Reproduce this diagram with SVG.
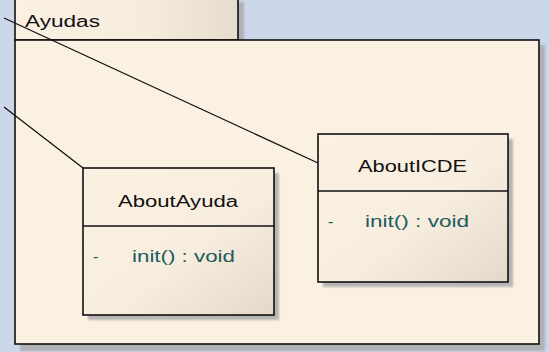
<svg xmlns="http://www.w3.org/2000/svg" width="550" height="352" viewBox="0 0 550 352">
<defs>
<linearGradient id="cls" x1="0" y1="0" x2="1" y2="1">
<stop offset="0" stop-color="#fbf1e3"/>
<stop offset="0.55" stop-color="#f8eee0"/>
<stop offset="1" stop-color="#e4d9c9"/>
</linearGradient>
<linearGradient id="tab" x1="0" y1="0" x2="1" y2="0">
<stop offset="0" stop-color="#fbf1e3"/>
<stop offset="0.6" stop-color="#f6ecde"/>
<stop offset="1" stop-color="#e6dccd"/>
</linearGradient>
<filter id="blur" x="-10%" y="-10%" width="120%" height="120%"><feGaussianBlur stdDeviation="0.8"/></filter>
</defs>
<style>
.shadow{fill:#ababab;filter:url(#blur);opacity:0.85}
.box{fill:url(#cls);stroke:#111;stroke-width:1.6}
.sep{stroke:#111;stroke-width:1.4}
.title{font-family:"Liberation Sans",Arial,sans-serif;font-size:16px;fill:#111}
.op{font-family:"Liberation Sans",Arial,sans-serif;font-size:16px;fill:#1c5c5c}
.conn{fill:none;stroke:#111;stroke-width:1.3}
</style>
<rect x="0" y="0" width="550" height="352" fill="#cdd7ea"/>
<g id="Ayudas">
<rect class="shadow" x="20" y="2" width="224" height="42"/>
<rect class="shadow" x="20" y="45" width="525" height="306"/>
<rect x="15" y="-2" width="223" height="42" fill="url(#tab)" stroke="#111" stroke-width="1.6"/>
<rect x="15" y="40" width="524" height="304" fill="#fbf1e3" stroke="#111" stroke-width="1.6"/>
<text class="title" x="25" y="27" font-size="17" textLength="75" lengthAdjust="spacingAndGlyphs">Ayudas</text>
</g>
<g id="connectors">
<line class="conn" x1="4" y1="18" x2="318" y2="163"/>
<line class="conn" x1="4" y1="107" x2="83" y2="168"/>
</g>
<g id="AboutAyuda">
<rect class="shadow" x="88" y="173" width="191" height="147"/>
<rect class="box" x="83" y="168" width="191" height="147"/>
<line class="sep" x1="83" y1="226" x2="274" y2="226"/>
<text class="title" x="118" y="207" textLength="120" lengthAdjust="spacingAndGlyphs">AboutAyuda</text>
<text class="op" x="93" y="262">-</text>
<text class="op" x="132" y="262" textLength="103" lengthAdjust="spacingAndGlyphs">init() : void</text>
</g>
<g id="AboutICDE">
<rect class="shadow" x="323" y="139" width="190" height="148"/>
<rect class="box" x="318" y="134" width="190" height="148"/>
<line class="sep" x1="318" y1="191" x2="508" y2="191"/>
<text class="title" x="358" y="172" textLength="109" lengthAdjust="spacingAndGlyphs">AboutICDE</text>
<text class="op" x="328" y="227">-</text>
<text class="op" x="365" y="227" textLength="104" lengthAdjust="spacingAndGlyphs">init() : void</text>
</g>
</svg>
